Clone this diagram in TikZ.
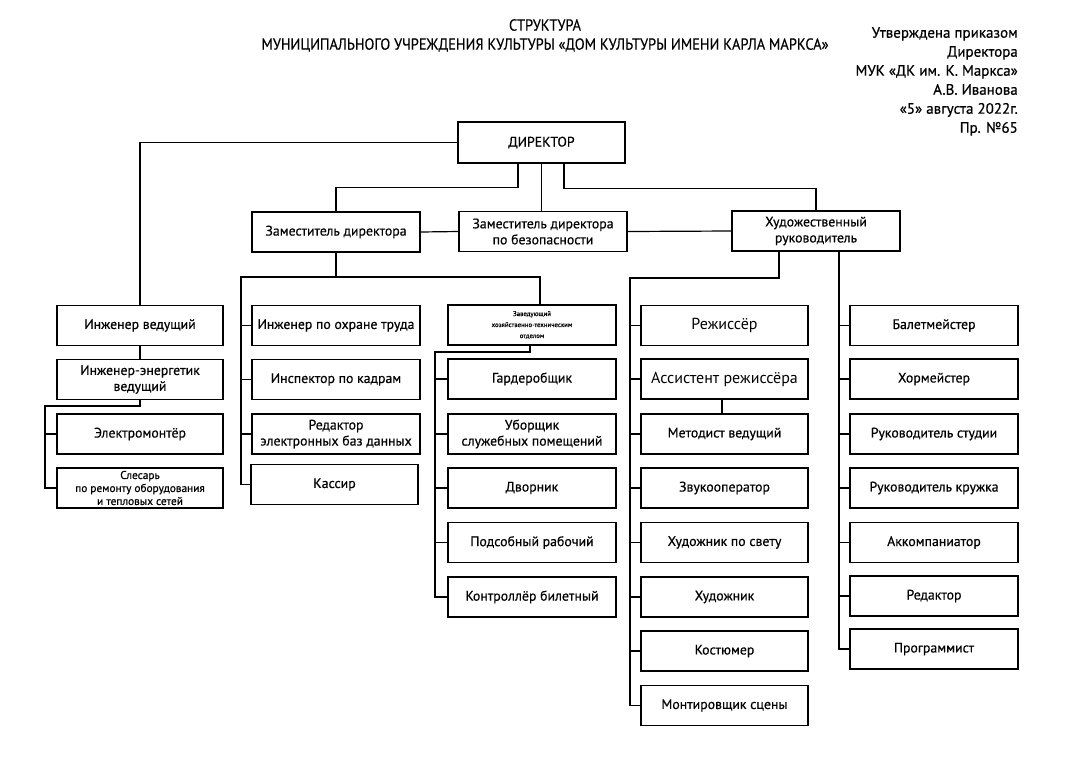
\documentclass[tikz,border=0pt]{standalone}
\usepackage{fontspec}
\setmainfont[FakeBold=0.5]{PT Sans}
\newfontfamily\narrowfont[FakeStretch=0.9, FakeBold=0.3]{PT Sans}
\newfontfamily\lightfont{PT Sans}
\begin{document}
\begin{tikzpicture}
    [
        x=1pt, y=-1pt,
        box/.style={rectangle, draw=black, line width=1.3pt, minimum height=40pt, minimum width=168pt, inner sep=1pt, align=center, font=\fontsize{13.8}{16}\selectfont},
        line/.style={line width=1.2pt},
        title/.style={font=\narrowfont\fontsize{16}{18}\selectfont}
    ]
    \useasboundingbox (0,0) rectangle (1080,764);

    % Titles
    \node[title] (title1) at (545,25) {СТРУКТУРА};
    \node[title] (title2) at (545,45) {МУНИЦИПАЛЬНОГО УЧРЕЖДЕНИЯ КУЛЬТУРЫ «ДОМ КУЛЬТУРЫ ИМЕНИ КАРЛА МАРКСА»};
    \node[anchor=north east, align=right, inner sep=0, font=\fontsize{15}{19}\selectfont] (approved) at (1018,27)
        {Утверждена приказом\\Директора\ \\МУК «ДК им. К. Маркса»\\А.В. Иванова\\«5» августа 2022г.\\Пр. №65};

    % Nodes
    \node[box, minimum width=167pt, minimum height=41pt] (director) at (541.5,142.5) {ДИРЕКТОР};
    \node[box] (deputy) at (336,232) {Заместитель директора};
    \node[box] (security) at (543,231.5) {Заместитель директора\\по безопасности};
    \node[box] (artdir) at (816,231) {Художественный\\руководитель};

    \node[box, minimum width=166pt] (engineer) at (140,325.5) {Инженер ведущий};
    \node[box, minimum width=166pt] (energetic) at (140,379.5) {Инженер-энергетик\\ведущий};
    \node[box, minimum width=166pt] (electrician) at (140,434) {Электромонтёр};
    \node[box, minimum width=166pt, font=\fontsize{11.3}{13}\selectfont] (fitter) at (140,488) {Слесарь\\по ремонту оборудования\\и тепловых сетей};

    \node[box] (safety) at (336,325.5) {Инженер по охране труда};
    \node[box] (personnel) at (336,379.5) {Инспектор по кадрам};
    \node[box] (dbeditor) at (336,434) {Редактор\\электронных баз данных};
    \node[box, minimum width=167pt] (cashier) at (334.5,484.5) {Кассир};

    \node[box, font=\fontsize{6.8}{11}\selectfont] (supply) at (532,325) {Заведующий\\хозяйственно-техническим\\отделом};
    \node[box] (cloakroom) at (532,379) {Гардеробщик};
    \node[box] (cleaner) at (532,434) {Уборщик\\служебных помещений};
    \node[box] (janitor) at (532,488) {Дворник};
    \node[box] (worker) at (532,542.5) {Подсобный рабочий};
    \node[box] (ticket) at (532,597) {Контроллёр билетный};

    \node[box, minimum width=167pt, font=\lightfont\fontsize{16}{18}\selectfont] (stagedir) at (724.5,325.5) {Режиссёр};
    \node[box, minimum width=167pt, font=\lightfont\fontsize{16}{18}\selectfont] (assistant) at (724.5,379) {Ассистент режиссёра};
    \node[box, minimum width=167pt] (methodist) at (724.5,434) {Методист ведущий};
    \node[box, minimum width=167pt] (sound) at (724.5,488) {Звукооператор};
    \node[box, minimum width=167pt] (light) at (724.5,542.5) {Художник по свету};
    \node[box, minimum width=167pt] (artist) at (724.5,597) {Художник};
    \node[box, minimum width=167pt] (costume) at (724.5,651) {Костюмер};
    \node[box, minimum width=167pt] (stagehand) at (724.5,705.5) {Монтировщик сцены};

    \node[box] (ballet) at (934,325.5) {Балетмейстер};
    \node[box] (choir) at (934,379) {Хормейстер};
    \node[box] (studio) at (934,434) {Руководитель студии};
    \node[box] (circle) at (934,488) {Руководитель кружка};
    \node[box] (accomp) at (934,542.5) {Аккомпаниатор};
    \node[box] (editor) at (934,596) {Редактор};
    \node[box] (programmer) at (934,649) {Программист};

    % Bus points
    \coordinate (deputybus) at (241,277);
    \coordinate (energybus) at (45,406);
    \coordinate (supplybus) at (435,352);
    \coordinate (artbus) at (630,278);
    \coordinate (artbus2) at (839,251);

    % Lines
    \draw[line] (director.west) -| (engineer.north);
    \draw[line] ([xshift=-23.5pt]director.south) -- ++(0,24) -| (deputy.north);
    \draw[line] (director.south) -- (director.south |- security.north);
    \draw[line] ([xshift=22.5pt]director.south) -- ++(0,25) -| (artdir.north);
    \draw[line] (deputy.east) -- (security.west);
    \draw[line] (security.east) -- (artdir.west);

    \draw[line] (engineer.south) -- (engineer.south |- energetic.north);
    \draw[line] (energetic.south) |- (energybus) |- (fitter.west);
    \draw[line] (energybus |- electrician.west) -- (electrician.west);

    \draw[line] (deputy.south) |- (deputybus) |- (cashier.west);
    \draw[line] (deputy.south |- deputybus) -| ([xshift=8pt]supply.north);
    \foreach \n in {safety, personnel, dbeditor}
        \draw[line] (deputybus |- \n.west) -- (\n.west);

    \draw[line] ([xshift=-2pt]supply.south) |- (supplybus) |- (ticket.west);
    \foreach \n in {cloakroom, cleaner, janitor, worker}
        \draw[line] (supplybus |- \n.west) -- (\n.west);

    \draw[line] ([xshift=-37pt]artdir.south) |- (artbus) |- (stagehand.west);
    \foreach \n in {stagedir, assistant, methodist, sound, light, artist, costume}
        \draw[line] (artbus |- \n.west) -- (\n.west);
    \draw[line] ([xshift=-2.5pt]assistant.south) -- ([xshift=-2.5pt]methodist.north);

    \draw[line] (artbus2) |- (programmer.west);
    \foreach \n in {ballet, choir, studio, circle, accomp, editor}
        \draw[line] (artbus2 |- \n.west) -- (\n.west);
\end{tikzpicture}
\end{document}
